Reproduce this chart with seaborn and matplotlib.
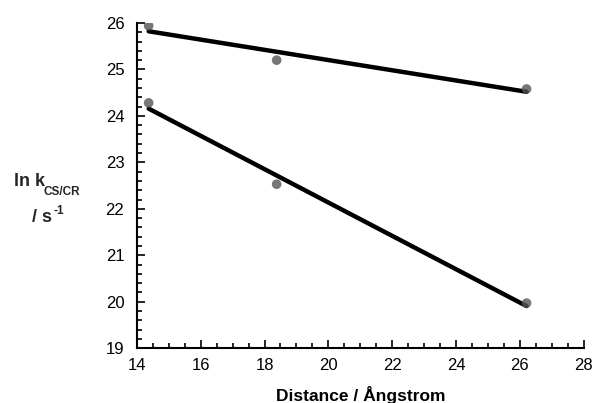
import matplotlib
matplotlib.use("Agg")
import matplotlib.pyplot as plt
import seaborn as sns
import numpy as np
from matplotlib.ticker import MultipleLocator

# data
distance = [14.37, 18.38, 26.21]
ln_k_cs = [25.94, 25.20, 24.58]
ln_k_cr = [24.28, 22.53, 19.97]

x_ticks = [14, 16, 18, 20, 22, 24, 26, 28]
y_ticks = [19, 20, 21, 22, 23, 24, 25, 26]

sns.set_theme(style="ticks")
plt.rcParams['font.family'] = ['Liberation Sans', 'DejaVu Sans']

fig = plt.figure(figsize=(5.95, 4.03), dpi=100)
ax = fig.add_axes([0.230, 0.136, 0.751, 0.807])

for series in (ln_k_cs, ln_k_cr):
    sns.regplot(x=distance, y=series, ax=ax, ci=None,
                scatter_kws=dict(s=48, color="#555555", edgecolor="none", zorder=3),
                line_kws=dict(color="black", lw=3.2, zorder=2))

ax.set_xlim(14, 28)
ax.set_ylim(19, 26)
ax.set_xticks(x_ticks)
ax.set_yticks(y_ticks)
ax.xaxis.set_minor_locator(MultipleLocator(0.5))
ax.yaxis.set_minor_locator(MultipleLocator(0.2))
ax.tick_params(which="both", direction="in", color="black", width=1.2)
ax.tick_params(which="major", length=6, labelsize=12, labelcolor="black")
ax.tick_params(which="minor", length=3.5)
ax.tick_params(axis="x", pad=7)
ax.tick_params(axis="y", pad=9)
for side in ("top", "right"):
    ax.spines[side].set_visible(False)
for side in ("left", "bottom"):
    ax.spines[side].set_color("black")
    ax.spines[side].set_linewidth(1.5)

ax.set_xlabel("Distance / Ångstrom", fontsize=12.5, fontweight="bold", color="black")
ax.xaxis.set_label_coords(0.5, -0.115)

# y label pieces (horizontal, with sub/superscripts)
W, H = 595, 403
fig.text(14 / W, 1 - 186 / H, "ln k", fontsize=13, fontweight="bold", va="baseline")
fig.text(43 / W, 1 - 195 / H, "CS/CR", fontsize=8.5, fontweight="bold", va="baseline")
fig.text(32 / W, 1 - 222 / H, "/ s", fontsize=13, fontweight="bold", va="baseline")
fig.text(54 / W, 1 - 214 / H, "-1", fontsize=8.5, fontweight="bold", va="baseline")

fig.savefig("out.png", dpi=100)
